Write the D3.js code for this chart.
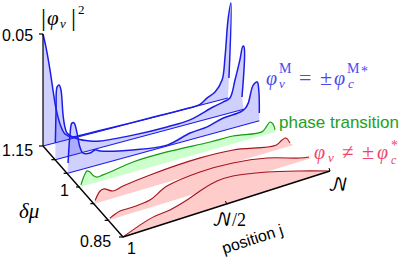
<!DOCTYPE html>
<html>
<head>
<meta charset="utf-8">
<script src="https://cdn.jsdelivr.net/npm/d3@7"></script>
<style>
html, body { margin: 0; padding: 0; background: #fff; overflow: hidden; }
svg { display: block; }
text { font-family: "Liberation Sans", Arial, sans-serif; }
.math { font-family: "Liberation Serif", serif; font-style: italic; }
.rm { font-family: "Liberation Serif", serif; font-style: normal; }
.cal { font-family: "DejaVu Math TeX Gyre", "DejaVu Sans", serif; }
</style>
</head>
<body>
<div id="chart"></div>
<script>
// delta mu of every slice, back to front
const deltaMu = [1.15, 1.1, 1.05, 1, 0.95, 0.9, 0.85];
const deltaTicks = [1.15, 1.1, 1.05, 1, 0.95, 0.9, 0.85];

// position j / N and |phi_v|^2
const pos115 = [0, .016, .038, .054, .07, .092, .119, .157, .227, .308, .578, .795, .849, .886, .93, .968, .984, 1, 1.016, 1.005];
const val115 = [.05, .0438, .0331, .0238, .0154, .0079, .0028, .0007, .0004, .0003, .0001, 0, .0004, .0024, .0042, .0087, .0187, .0348, .0421, .0088];
const pos110 = [0, .004, .009, .02, .03, .041, .051, .062, .12, .184, .237, .412, .593, .715, .837, .89, .927, .954, .98, .996, 1.002, .991];
const val110 = [.0075, .0221, .0322, .0329, .0304, .019, .0134, .0105, .0065, .0042, .003, .0017, .0013, .0017, .0047, .0057, .0067, .0141, .0225, .0283, .0278, .0057];
const pos105 = [.002, .012, .022, .033, .049, .064, .08, .117, .143, .169, .341, .519, .639, .728, .812, .901, .927, .942, .968, .989, .997, 1];
const val105 = [.0046, .0168, .0219, .0217, .0168, .0102, .0071, .0063, .0071, .006, .0024, .0004, .003, .0036, .0056, .0062, .0073, .0092, .0166, .0175, .0138, .0034];
const pos100 = [.005, .021, .036, .051, .072, .087, .118, .154, .272, .446, .667, .785, .933, .954, .974, .99, 1];
const val100 = [.0008, .0044, .0063, .0054, .0031, .0023, .0025, .0029, .0045, .0047, .0037, .0035, .0017, .0033, .0051, .0038, .0009];
const pos095 = [.004, .029, .049, .094, .144, .28, .532, .698, .913, .943, .963, .983];
const val095 = [.0013, .0049, .0053, .0032, .0041, .0055, .0065, .0057, .0022, .0037, .0041, .0013];
const pos090 = [.006, .056, .12, .203, .287, .45, .612, .78, .942, .987];
const val090 = [.0008, .0026, .0026, .0034, .0073, .0091, .0086, .0061, .0016, .0008];
const pos085 = [0, .082, .145, .227, .309, .372, .454, .531, .696, .855, 1];
const val085 = [0, .0029, .0046, .0054, .0074, .0096, .0116, .0116, .0085, .0043, 0];

const positions = [pos115, pos110, pos105, pos100, pos095, pos090, pos085];
const values = [val115, val110, val105, val100, val095, val090, val085];
const phases = ["blue", "blue", "blue", "green", "red", "red", "red"];

const lineColor = {blue: "#1c1ce6", green: "#149a14", red: "#a3141e"};
const fillColor = {blue: "#2a2aff", green: "#ccffcc", red: "#ffcccc"};
const fillAlpha = {blue: .22, green: 1, red: 1};
const lineWidth = {blue: 1.5, green: 1.2, red: 1.1};

const width = 401, height = 258;

const svg = d3.select("#chart").append("svg")
	.attr("width", width)
	.attr("height", height);

// the box is drawn in perspective so the slice start and end move at different rates
let startX = d3.scaleLinear().domain([1.15, 1, 0.85]).range([43, 80, 123]);
let startY = d3.scaleLinear().domain([1.15, 1, 0.85]).range([146, 187, 237]);
let endX = d3.scaleLinear().domain([1.15, 1, 0.85]).range([228, 275, 330]);
let endY = d3.scaleLinear().domain([1.15, 1, 0.85]).range([98, 132, 171]);
let heightScale = d3.scaleLinear().domain([0, 0.05]).range([0, 112]);

function px(d, p) { return startX(d) + p * (endX(d) - startX(d)); }
function py(d, p, v) { return startY(d) + p * (endY(d) - startY(d)) - heightScale(v); }

let curve = d3.line().curve(d3.curveCatmullRom.alpha(0.5));

deltaMu.forEach((d, i) => {
	let phase = phases[i];
	let pts = positions[i].map((p, k) => [px(d, p), py(d, p, values[i][k])]);
	let base = [[px(d, 1), py(d, 1, 0)], [px(d, 0), py(d, 0, 0)]];
	let first = pts[0];
	let g = svg.append("g");

	g.append("path")
		.attr("d", curve(pts) + "L" + base.join("L") + "L" + first.join(",") + "Z")
		.attr("fill", fillColor[phase])
		.attr("fill-opacity", fillAlpha[phase]);

	// only the blue slices have their bottom edge drawn
	if (phase == "blue") {
		g.append("path")
			.attr("d", d3.line()(base))
			.attr("fill", "none")
			.attr("stroke", lineColor[phase])
			.attr("stroke-width", 1.1);
	}

	g.append("path")
		.attr("d", curve(pts))
		.attr("fill", "none")
		.attr("stroke", lineColor[phase])
		.attr("stroke-width", lineWidth[phase])
		.attr("stroke-linejoin", "round");
});

// axes
let axes = svg.append("g").attr("stroke", "#000").attr("fill", "none");
axes.append("line")
	.attr("x1", startX(1.15)).attr("y1", startY(1.15) - heightScale(0.05))
	.attr("x2", startX(1.15)).attr("y2", startY(1.15))
	.attr("stroke-width", 1.2);
axes.append("line")
	.attr("x1", startX(1.15)).attr("y1", startY(1.15))
	.attr("x2", startX(0.85)).attr("y2", startY(0.85))
	.attr("stroke-width", 1.4);
axes.append("line")
	.attr("x1", startX(0.85)).attr("y1", startY(0.85))
	.attr("x2", endX(0.85)).attr("y2", endY(0.85))
	.attr("stroke-width", 1.4);

axes.selectAll(".dtick").data(deltaTicks).enter().append("line")
	.attr("x1", d => startX(d) - 4).attr("y1", d => startY(d))
	.attr("x2", d => startX(d)).attr("y2", d => startY(d))
	.attr("stroke-width", 1.2);
axes.append("line")
	.attr("x1", startX(1.15) - 4).attr("y1", startY(1.15) - heightScale(0.05))
	.attr("x2", startX(1.15)).attr("y2", startY(1.15) - heightScale(0.05))
	.attr("stroke-width", 1.2);
axes.append("line")
	.attr("x1", px(0.85, .5)).attr("y1", py(0.85, .5, 0))
	.attr("x2", px(0.85, .5) - 1).attr("y2", py(0.85, .5, 0) - 3)
	.attr("stroke-width", 1);
axes.append("line")
	.attr("x1", px(0.85, 1)).attr("y1", py(0.85, 1, 0))
	.attr("x2", px(0.85, 1) - 1).attr("y2", py(0.85, 1, 0) - 3)
	.attr("stroke-width", 1);

function label(txt, x, y, size, color, cls) {
	return svg.append("text")
		.attr("x", x).attr("y", y)
		.attr("font-size", size)
		.attr("fill", color || "#000")
		.attr("class", cls || null)
		.text(txt);
}

// one formula = one text element, each piece is [text, x, y, size, class]
function formula(parts, color) {
	let t = svg.append("text").attr("fill", color);
	parts.forEach(p => {
		t.append("tspan")
			.attr("x", p[1]).attr("y", p[2])
			.attr("font-size", p[3])
			.attr("class", p[4])
			.text(p[0]);
	});
}

// tick labels
label("0.05", 2, 41, 16);
label("1.15", 2, 156, 16);
label("1", 60, 196, 16);
label("0.85", 80, 247, 16);
label("1", 127, 254, 16);

// axis titles
formula([
	["|", 41, 26, 25, "rm"],
	["φ", 47, 25, 21, "math"],
	["v", 60, 28, 13, "math"],
	["|", 71, 26, 25, "rm"],
	["2", 78, 14, 13, "rm"]
], "#000");
label("δμ", 19, 218, 21, "#000", "math");
label("𝒩", 328, 191, 18, "#000", "cal");
label("𝒩", 212, 226, 18, "#000", "cal");
label("/2", 232, 226, 18, "#000", "rm");
svg.append("text")
	.attr("transform", "translate(224,254) rotate(-18)")
	.attr("font-size", 16)
	.text("position j");

// annotations
const blueText = "#4a4aee", redText = "#f0456a";
formula([
	["φ", 266, 85, 20, "math"],
	["M", 279, 73, 14, "rm"],
	["v", 279, 88, 13, "math"],
	["=", 299, 85, 22, "rm"],
	["±", 320, 85, 22, "rm"],
	["φ", 334, 85, 20, "math"],
	["M", 347, 73, 14, "rm"],
	["c", 348, 88, 13, "math"],
	["*", 361, 76, 14, "rm"]
], blueText);

label("phase transition", 279, 128, 17, "#22a022");

formula([
	["φ", 314, 159, 20, "math"],
	["v", 328, 162, 13, "math"],
	["≠", 342, 159, 21, "rm"],
	["±", 362, 159, 22, "rm"],
	["φ", 377, 159, 20, "math"],
	["c", 391, 164, 12, "math"],
	["*", 391, 150, 14, "rm"]
], redText);
</script>
</body>
</html>
